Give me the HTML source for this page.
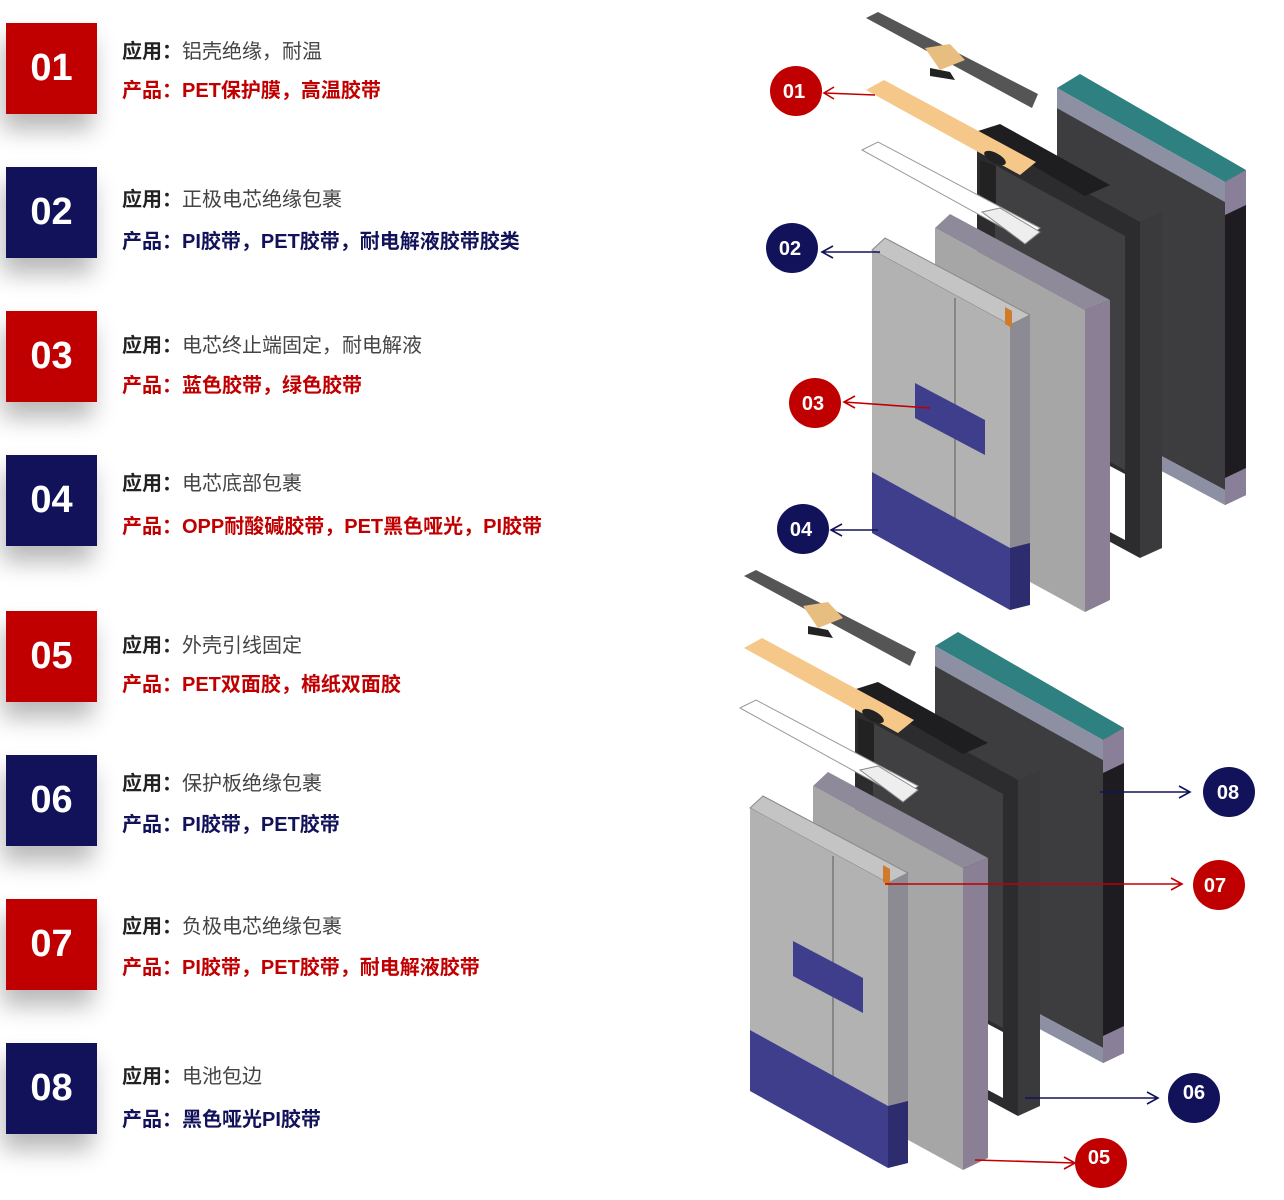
<!DOCTYPE html>
<html><head><meta charset="utf-8"><style>
body{margin:0;width:1284px;height:1200px;background:#fff;position:relative;overflow:hidden;font-family:"Liberation Sans","Noto Sans CJK SC",sans-serif}
.b{position:absolute;left:6px;width:91px;height:91px;color:#fff;font-weight:bold;font-size:38px;display:flex;align-items:center;justify-content:center;box-shadow:-4px 16px 22px rgba(0,0,0,.28)}
.r{background:#c00000}.n{background:#12125a}
.t{position:absolute;left:122px;font-size:20px;white-space:nowrap;line-height:24px}
.a{color:#444}.a b{color:#222}
.pr{color:#c00000;font-weight:bold}.pn{color:#12125a;font-weight:bold}
svg{position:absolute;left:0;top:0}
</style></head><body>
<div class="b r" style="top:23px">01</div>
<div class="t a" style="top:40px"><b>应用：</b>铝壳绝缘，耐温</div>
<div class="t pr" style="top:79px">产品：PET保护膜，高温胶带</div>
<div class="b n" style="top:167px">02</div>
<div class="t a" style="top:188px"><b>应用：</b>正极电芯绝缘包裹</div>
<div class="t pn" style="top:230px">产品：PI胶带，PET胶带，耐电解液胶带胶类</div>
<div class="b r" style="top:311px">03</div>
<div class="t a" style="top:334px"><b>应用：</b>电芯终止端固定，耐电解液</div>
<div class="t pr" style="top:374px">产品：蓝色胶带，绿色胶带</div>
<div class="b n" style="top:455px">04</div>
<div class="t a" style="top:472px"><b>应用：</b>电芯底部包裹</div>
<div class="t pr" style="top:515px">产品：OPP耐酸碱胶带，PET黑色哑光，PI胶带</div>
<div class="b r" style="top:611px">05</div>
<div class="t a" style="top:634px"><b>应用：</b>外壳引线固定</div>
<div class="t pr" style="top:673px">产品：PET双面胶，棉纸双面胶</div>
<div class="b n" style="top:755px">06</div>
<div class="t a" style="top:772px"><b>应用：</b>保护板绝缘包裹</div>
<div class="t pn" style="top:813px">产品：PI胶带，PET胶带</div>
<div class="b r" style="top:899px">07</div>
<div class="t a" style="top:915px"><b>应用：</b>负极电芯绝缘包裹</div>
<div class="t pr" style="top:956px">产品：PI胶带，PET胶带，耐电解液胶带</div>
<div class="b n" style="top:1043px">08</div>
<div class="t a" style="top:1065px"><b>应用：</b>电池包边</div>
<div class="t pn" style="top:1108px">产品：黑色哑光PI胶带</div>

<svg width="1284" height="1200" viewBox="0 0 1284 1200">
<defs>
<g id="bat">
 <polygon points="1057,88 1080,74 1246,170 1225,182" fill="#2f8080"/>
 <polygon points="1057,88 1225,182 1225,202 1057,108" fill="#8d8fa3"/>
 <polygon points="1057,108 1225,202 1225,490 1057,400" fill="#3d3c3e"/>
 <polygon points="1057,400 1225,490 1225,505 1057,415" fill="#8d8fa3"/>
 <polygon points="1225,182 1246,170 1246,495 1225,505" fill="#1e1c20"/>
 <polygon points="1225,182 1246,170 1246,205 1225,215" fill="#8a7f98"/>
 <polygon points="1225,478 1246,468 1246,495 1225,505" fill="#8a7f98"/>
 <polygon points="977,132 1140,222 1140,558 977,470" fill="#2c2b2e"/>
 <polygon points="995,165 1125,236 1125,470 995,400" fill="#404042"/>
 <polygon points="1108,465 1125,474 1125,540 1108,531" fill="#fff"/>
 <polygon points="1140,222 1162,212 1162,548 1140,558" fill="#3a393c"/>
 <polygon points="975,132 1000,124 1110,185 1085,196" fill="#1e1e20"/>
 <polygon points="980,160 996,166 996,216 980,210" fill="#222"/>
 <polygon points="935,228 950,214 1110,300 1085,310" fill="#8f8a99"/>
 <polygon points="935,228 1085,310 1085,612 935,530" fill="#a6a6a6"/>
 <polygon points="1085,310 1110,300 1110,600 1085,612" fill="#8a7f95"/>
 <polygon points="872,250 885,238 1030,315 1010,325" fill="#c4c4c4" stroke="#888" stroke-width="1"/>
 <polygon points="872,250 1010,325 1010,548 872,472" fill="#b2b2b2"/>
 <line x1="955" y1="298" x2="955" y2="560" stroke="#777" stroke-width="1.5"/>
 <polygon points="1010,325 1030,315 1030,545 1010,550" fill="#8c8a92"/>
 <polygon points="1005,307 1012,311 1012,328 1005,324" fill="#d07a2a"/>
 <polygon points="915,383 985,420 985,455 915,418" fill="#3e3e8c"/>
 <polygon points="872,472 1010,548 1010,610 872,533" fill="#3e3e8c"/>
 <polygon points="1010,548 1030,543 1030,605 1010,610" fill="#2c2c6e"/>
 <polygon points="866,18 878,12 1038,94 1032,108" fill="#555"/>
 <polygon points="925,48 950,44 965,60 940,70" fill="#e8be80"/>
 <polygon points="930,68 950,72 955,80 930,76" fill="#222"/>
 <polygon points="866,90 884,80 1036,162 1020,175" fill="#f5c88a"/>
 <ellipse cx="995" cy="158" rx="12" ry="5" fill="#222" transform="rotate(28 995 158)"/>
 <polygon points="862,150 878,142 1040,228 1025,240" fill="#fff" stroke="#999" stroke-width="1"/>
 <polygon points="982,212 1000,208 1040,232 1025,244" fill="#eee" stroke="#888" stroke-width="1"/>
</g>
</defs>
<use href="#bat"/>
<use href="#bat" transform="translate(-122,558)"/>

<g stroke-width="1.6" fill="none">
 <path d="M875 95 L824 93 M834 87 L824 93 L834 99" stroke="#c00000"/>
 <path d="M880 252 L822 252 M833 246 L822 252 L833 258" stroke="#12125a"/>
 <path d="M930 408 L844 402 M855 396 L844 402 L855 408" stroke="#c00000"/>
 <path d="M878 530 L831 530 M842 524 L831 530 L842 536" stroke="#12125a"/>
 <path d="M1100 792 L1190 792 M1179 786 L1190 792 L1179 798" stroke="#12125a"/>
 <path d="M885 884 L1182 884 M1171 878 L1182 884 L1171 890" stroke="#c00000"/>
 <path d="M1025 1098 L1158 1098 M1147 1092 L1158 1098 L1147 1104" stroke="#12125a"/>
 <path d="M975 1160 L1075 1163 M1064 1157 L1075 1163 L1064 1169" stroke="#c00000"/>
</g>
<g font-family="Liberation Sans, sans-serif" font-weight="bold" font-size="20" fill="#fff" text-anchor="middle">
 <ellipse cx="796" cy="91" rx="26" ry="25" fill="#c00000"/><text x="794" y="98">01</text>
 <ellipse cx="792" cy="248" rx="26" ry="25" fill="#12125a"/><text x="790" y="255">02</text>
 <ellipse cx="815" cy="403" rx="26" ry="25" fill="#c00000"/><text x="813" y="410">03</text>
 <ellipse cx="803" cy="529" rx="26" ry="25" fill="#12125a"/><text x="801" y="536">04</text>
 <ellipse cx="1229" cy="792" rx="26" ry="25" fill="#12125a"/><text x="1228" y="799">08</text>
 <ellipse cx="1219" cy="885" rx="26" ry="25" fill="#c00000"/><text x="1215" y="892">07</text>
 <ellipse cx="1194" cy="1098" rx="26" ry="25" fill="#12125a"/><text x="1194" y="1099">06</text>
 <ellipse cx="1101" cy="1163" rx="26" ry="25" fill="#c00000"/><text x="1099" y="1164">05</text>
</g>
</svg>
</body></html>
